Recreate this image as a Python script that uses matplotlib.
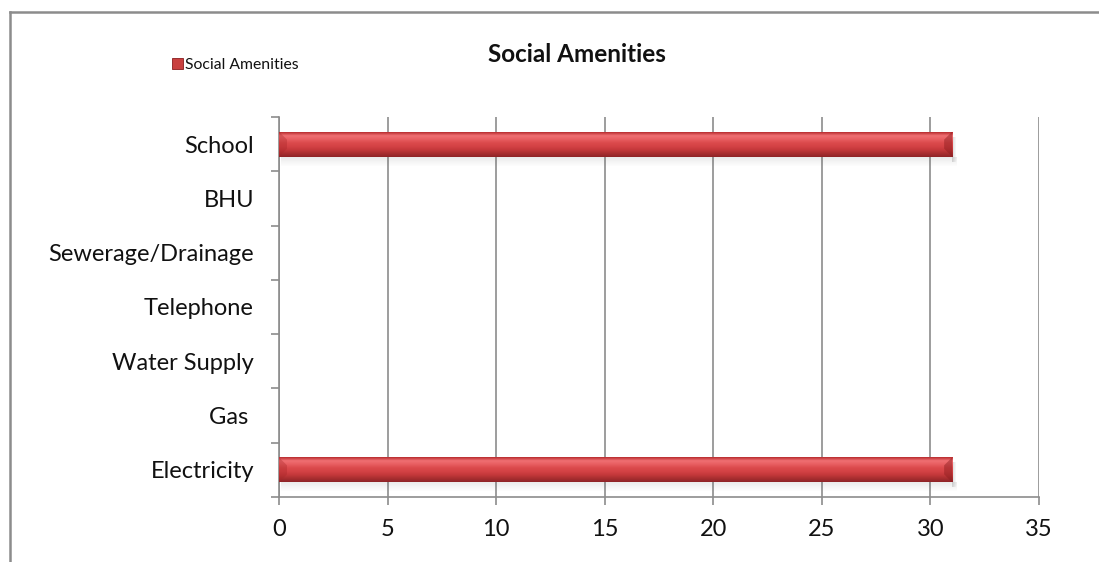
import numpy as np
import matplotlib
matplotlib.use("Agg")
import matplotlib.pyplot as plt
from matplotlib.lines import Line2D
from matplotlib.patches import Rectangle, Polygon

categories = ["Electricity", "Gas ", "Water Supply", "Telephone",
              "Sewerage/Drainage", "BHU", "School"]
values = [31, 0, 0, 0, 0, 0, 31]
x_ticks = [0, 5, 10, 15, 20, 25, 30, 35]
series_name = "Social Amenities"
title = "Social Amenities"

plt.rcParams["font.family"] = ["Lato", "DejaVu Sans"]

fig = plt.figure(figsize=(10.99, 5.62), dpi=100)
ax = fig.add_axes([279 / 1099, 1 - 497 / 562, 760 / 1099, 380 / 562])

grid_col = "#8c8c8c"
bar_h = 0.46
ypos = np.arange(len(categories))
bars = ax.barh(ypos, values, height=bar_h, color="#c9403f", zorder=3,
               edgecolor="none")

# vertical gradient for the bar face (light top bevel, dark bottom bevel)
grad_cols = np.array([
    [0.72, 0.17, 0.18],
    [0.94, 0.44, 0.45],
    [0.91, 0.37, 0.38],
    [0.86, 0.29, 0.30],
    [0.83, 0.26, 0.27],
    [0.77, 0.22, 0.23],
    [0.66, 0.18, 0.19],
    [0.56, 0.14, 0.15],
])
n = 100
t = np.linspace(0, 1, n)
idx = np.linspace(0, 1, len(grad_cols))
grad = np.stack([np.interp(t, idx, grad_cols[:, c]) for c in range(3)], axis=1)
grad_img = grad[:, None, :]  # top row first

px_x = 35 / 760      # data units per pixel, x
px_y = 7 / 380       # data units per pixel, y

for b in bars:
    w = b.get_width()
    if w <= 0:
        continue
    y0 = b.get_y()
    h = b.get_height()
    top = y0 + h
    # soft drop shadow under and right of the bar
    for k in range(9):
        a = 0.11 * (1 - k / 9)
        ax.add_patch(Rectangle((2 * px_x, y0 - (k + 1) * px_y), w + 3 * px_x, px_y,
                               facecolor="#505050", alpha=a, edgecolor="none", zorder=2))
    for k in range(4):
        ax.add_patch(Rectangle((w, y0 - 5 * px_y), (k + 1) * px_x, h,
                               facecolor="#505050", alpha=0.05, edgecolor="none", zorder=2))
    im = ax.imshow(grad_img, extent=[0, w, y0, top], aspect="auto",
                   origin="upper", zorder=4, interpolation="bilinear")
    im.set_clip_path(b)
    # bevelled ends
    bx, by = 8 * px_x, 8 * px_y
    ax.add_patch(Polygon([[0, top], [bx, top - by], [bx, y0 + by], [0, y0]],
                         closed=True, facecolor="#a82628", alpha=0.35,
                         edgecolor="none", zorder=5))
    ax.add_patch(Polygon([[w, top], [w - bx, top - by], [w - bx, y0 + by], [w, y0]],
                         closed=True, facecolor="#8a1c1e", alpha=0.45,
                         edgecolor="none", zorder=5))

ax.set_xlim(0, 35)
ax.set_ylim(-0.5, len(categories) - 0.5)
ax.set_xticks(x_ticks)
ax.set_xticklabels([str(v) for v in x_ticks])
ax.set_yticks(ypos)
ax.set_yticklabels(categories)
ax.set_yticks(np.arange(-0.5, len(categories)), minor=True)

ax.xaxis.grid(True, color=grid_col, linewidth=1.2, zorder=0)
ax.set_axisbelow(True)
for s in ["top", "right"]:
    ax.spines[s].set_visible(False)
for s in ["left", "bottom"]:
    ax.spines[s].set_color(grid_col)
    ax.spines[s].set_linewidth(1.2)

ax.tick_params(axis="y", which="major", length=0, pad=18, labelsize=17, labelcolor="#111111")
ax.tick_params(axis="y", which="minor", length=6, width=1.2, color=grid_col, direction="out")
ax.tick_params(axis="x", which="major", length=6, width=1.2, color=grid_col, pad=10,
               labelsize=17, labelcolor="#111111")

# title and legend
fig.text(577 / 1099, 1 - 55 / 562, title, ha="center", va="center",
         fontsize=17.5, fontweight="bold", color="#111111")
fig.patches.append(Rectangle((172 / 1099, 1 - 69 / 562), 11 / 1099, 11 / 562,
                             transform=fig.transFigure, facecolor="#c9403f",
                             edgecolor="#8a1c1e", linewidth=0.6))
fig.text(185 / 1099, 1 - 65 / 562, series_name, ha="left", va="center",
         fontsize=11.3, color="#111111")

# chart frame
fig.lines.append(Line2D([9.5 / 1099, 9.5 / 1099], [0, 1 - 11.5 / 562],
                        transform=fig.transFigure, color="#8c8c8c", linewidth=1.8))
fig.lines.append(Line2D([9.5 / 1099, 1], [1 - 11.5 / 562, 1 - 11.5 / 562],
                        transform=fig.transFigure, color="#8c8c8c", linewidth=1.8))

fig.savefig("out.png", dpi=100)
